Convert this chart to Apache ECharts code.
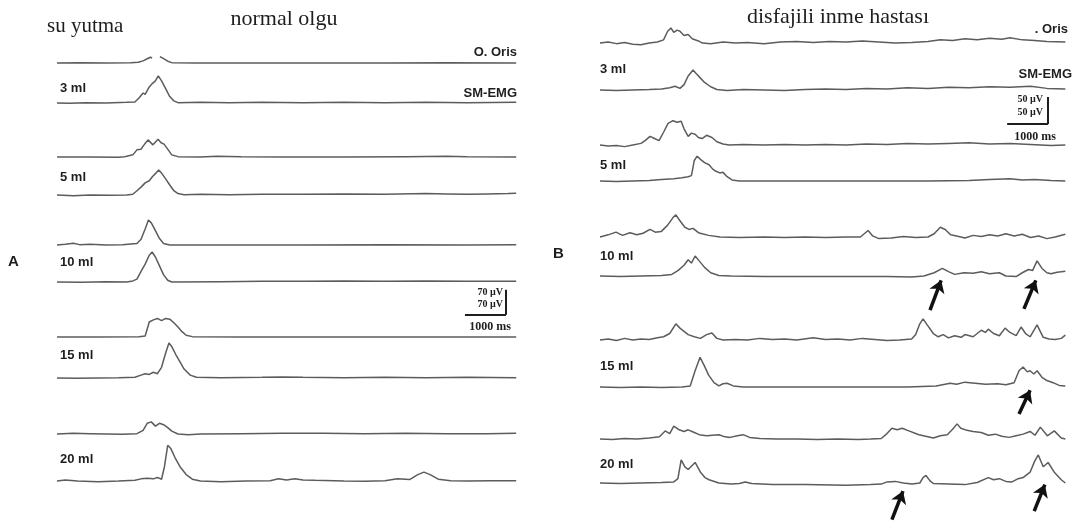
<!DOCTYPE html>
<html><head><meta charset="utf-8">
<script src="https://cdn.jsdelivr.net/npm/echarts/dist/echarts.min.js"></script>
<style>html,body{margin:0;padding:0;background:#fff}#c{width:1074px;height:529px}</style>
</head><body><div id="c"></div>
<script>
// ---------- DATA: [time (ms), amplitude (µV)] ----------
// Panel A — normal olgu
const A_3ml_oris = [[0,0],[600,1],[1200,0],[1800,1],[1980,2],[2100,6],[2200,12],[2280,16],[2320,14],[2400,'-'],[2510,18],[2600,12],[2700,5],[2800,1],[3400,0],[4500,0],[6000,0],[8000,0],[9500,1],[11200,0]];
const A_3ml_sm = [[0,0],[300,-1],[700,1],[1200,0],[1700,2],[1900,3],[2000,14],[2100,28],[2150,24],[2250,45],[2330,55],[2400,62],[2470,76],[2550,62],[2650,40],[2750,18],[2850,6],[2950,1],[3500,2],[4200,1],[5000,2],[6000,1],[7000,2],[8000,1],[9000,2],[10000,1],[11200,2]];
const A_5ml_oris = [[0,0],[800,0],[1500,-1],[1650,1],[1850,6],[1950,20],[2050,22],[2150,38],[2220,48],[2340,34],[2465,50],[2540,40],[2610,36],[2700,22],[2800,6],[2950,1],[3500,0],[3900,2],[4500,1],[5500,0],[7000,0],[8500,1],[9500,2],[10000,1],[11200,0]];
const A_5ml_sm = [[0,0],[400,-2],[800,0],[1300,-1],[1700,0],[1850,2],[1950,12],[2050,22],[2150,34],[2250,40],[2330,52],[2420,62],[2480,70],[2560,60],[2650,45],[2750,28],[2850,12],[2950,4],[3100,1],[3500,2],[4200,1],[5000,2],[6000,2],[7000,3],[8000,2],[9000,4],[9500,3],[10000,2],[10500,3],[11000,4],[11200,5]];
const A_10ml_oris = [[0,0],[200,2],[400,5],[550,1],[800,2],[1200,0],[1600,1],[1800,3],[1950,4],[2050,16],[2150,45],[2230,70],[2300,62],[2400,40],[2500,18],[2600,4],[2750,0],[4000,0],[6000,0],[8000,1],[10000,0],[11200,1]];
const A_10ml_sm = [[0,0],[600,-1],[1200,1],[1700,0],[1850,3],[1950,8],[2050,30],[2150,50],[2250,75],[2320,84],[2400,70],[2500,45],[2600,20],[2700,5],[2800,0],[4000,1],[5000,2],[6000,2],[7000,3],[8000,2],[9000,3],[10000,2],[11200,2]];
const A_15ml_oris = [[0,0],[1000,0],[2000,1],[2150,3],[2250,42],[2350,48],[2450,52],[2550,46],[2650,52],[2750,50],[2850,40],[2950,28],[3050,15],[3150,5],[3300,1],[4500,0],[6000,0],[8000,0],[10000,0],[11200,0]];
const A_15ml_sm = [[0,0],[500,-1],[1000,0],[1500,1],[1900,2],[2050,8],[2150,12],[2250,10],[2350,16],[2450,12],[2550,30],[2650,70],[2730,98],[2800,88],[2900,65],[3000,45],[3100,25],[3250,8],[3400,2],[4000,1],[5000,2],[5500,3],[6000,2],[7000,1],[8000,2],[9000,1],[10000,2],[11200,1]];
const A_20ml_oris = [[0,0],[400,2],[800,1],[1200,0],[1600,-1],[1950,1],[2100,10],[2200,30],[2300,34],[2400,22],[2500,30],[2600,26],[2700,18],[2800,8],[2950,0],[3200,-2],[3500,0],[4500,1],[5500,2],[6500,2],[7500,1],[8500,2],[9500,1],[10500,1],[11200,2]];
const A_20ml_sm = [[0,0],[200,3],[500,0],[1000,-2],[1500,0],[1900,2],[2050,6],[2200,8],[2350,6],[2450,10],[2550,5],[2620,40],[2700,100],[2780,90],[2880,65],[3000,40],[3150,18],[3300,5],[3500,0],[4000,-2],[4600,0],[5200,1],[5400,6],[5600,3],[5800,6],[6000,3],[6300,2],[7000,0],[7500,-1],[8000,1],[8300,6],[8600,4],[8800,18],[8950,25],[9100,18],[9300,5],[9600,1],[10000,0],[10600,1],[11200,1]];

// Panel B — disfajili inme hastası
const B_3ml_oris = [[0,0],[200,2],[400,-1],[600,1],[800,-2],[1000,-3],[1200,0],[1400,2],[1550,6],[1650,22],[1730,28],[1800,20],[1880,24],[1950,22],[2050,14],[2150,16],[2250,8],[2400,4],[2500,0],[2700,-1],[3000,2],[3300,0],[3600,1],[4000,-1],[4400,2],[4800,3],[5200,1],[5600,3],[6000,2],[6400,4],[6800,2],[7200,0],[7600,1],[8000,3],[8300,6],[8600,5],[8900,8],[9200,6],[9500,9],[9800,7],[10000,10],[10300,6],[10600,5],[10900,3],[11350,2]];
const B_3ml_sm = [[0,0],[400,-1],[800,0],[1200,1],[1500,2],[1700,4],[1830,7],[1950,3],[2050,10],[2150,26],[2270,37],[2350,30],[2450,22],[2550,14],[2700,6],[2850,1],[3100,-1],[3500,1],[4000,0],[4500,-1],[5000,1],[5500,2],[6000,1],[6500,3],[7000,2],[7500,4],[8000,3],[8500,5],[9000,4],[9500,6],[10000,5],[10500,7],[10900,3],[11350,2]];
const B_5ml_oris = [[0,0],[200,-2],[400,-1],[600,-3],[800,0],[1000,3],[1100,8],[1220,16],[1330,12],[1440,8],[1560,25],[1660,40],[1780,45],[1880,42],[1980,44],[2050,30],[2150,16],[2230,22],[2320,20],[2400,14],[2490,12],[2600,18],[2730,14],[2850,6],[3000,2],[3150,0],[3500,1],[4000,0],[4500,1],[5000,0],[5500,1],[6000,0],[6500,2],[7000,1],[7500,3],[8000,2],[8500,3],[9000,4],[9500,2],[10000,3],[10500,1],[11000,-1],[11350,0]];
const B_5ml_sm = [[0,0],[400,-1],[800,0],[1200,1],[1500,3],[1800,4],[2000,6],[2150,8],[2230,10],[2300,38],[2370,46],[2450,40],[2550,34],[2660,30],[2750,22],[2830,18],[2920,15],[3000,16],[3100,8],[3220,2],[3400,0],[4000,0],[5000,0],[6000,0],[7000,0],[8000,0],[9000,1],[9500,3],[10000,4],[10300,2],[10600,3],[11000,1],[11350,0]];
const B_10ml_oris = [[0,0],[200,4],[390,9],[550,3],[730,8],[900,4],[1050,7],[1220,14],[1350,9],[1490,10],[1650,22],[1780,36],[1850,41],[1950,30],[2070,18],[2170,14],[2270,16],[2400,8],[2490,6],[2650,3],[2930,0],[3400,-1],[4000,0],[4500,-1],[5000,0],[5500,-1],[6000,0],[6350,0],[6540,12],[6650,2],[6800,-3],[7100,-2],[7400,1],[7700,-1],[8000,0],[8150,6],[8300,18],[8420,14],[8550,4],[8700,2],[8900,-2],[9100,3],[9300,1],[9500,4],[9700,2],[9900,6],[10100,2],[10300,5],[10500,-1],[10700,2],[10900,-3],[11100,0],[11350,5]];
const B_10ml_sm = [[0,0],[500,-1],[1000,0],[1500,1],[1750,3],[1900,10],[2050,20],[2150,30],[2230,24],[2320,37],[2420,28],[2550,16],[2700,6],[2900,1],[3200,0],[4000,-1],[5000,-1],[6000,-1],[7000,-1],[7600,-2],[7900,0],[8150,6],[8350,14],[8500,8],[8650,3],[8880,6],[9100,5],[9300,8],[9500,4],[9740,6],[9900,0],[10150,-1],[10300,6],[10450,12],[10550,10],[10660,28],[10780,14],[10900,6],[11000,4],[11150,7],[11350,9]];
const B_15ml_oris = [[0,0],[200,2],[400,-1],[600,3],[800,0],[1000,2],[1200,1],[1400,4],[1550,6],[1700,12],[1850,30],[1950,22],[2050,16],[2150,10],[2300,6],[2450,3],[2600,10],[2730,13],[2850,3],[3000,0],[3300,1],[3600,0],[3900,3],[4200,1],[4500,2],[4800,0],[5200,4],[5500,1],[5800,2],[6100,0],[6400,3],[6700,1],[7000,-1],[7300,0],[7600,2],[7700,10],[7800,30],[7880,39],[7980,28],[8130,12],[8250,6],[8370,10],[8500,4],[8650,8],[8810,5],[8900,10],[9100,6],[9300,18],[9400,14],[9470,20],[9600,12],[9740,8],[9880,22],[10000,14],[10150,8],[10270,24],[10380,12],[10490,6],[10660,28],[10810,5],[10950,2],[11100,1],[11250,3],[11350,9]];
const B_15ml_sm = [[0,0],[500,-1],[1000,0],[1500,-1],[2000,0],[2200,2],[2320,30],[2440,55],[2540,40],[2650,22],[2780,8],[2900,2],[3000,6],[3100,7],[3250,2],[3500,0],[4500,0],[5500,0],[6500,0],[7500,0],[8200,2],[8540,7],[8700,5],[8900,9],[9150,7],[9400,5],[9700,6],[9900,4],[10100,8],[10220,30],[10320,37],[10420,28],[10490,30],[10580,24],[10660,30],[10780,18],[10900,12],[11050,8],[11200,3],[11350,2]];
const B_20ml_oris = [[0,0],[300,-1],[600,1],[900,0],[1200,2],[1450,4],[1590,15],[1700,10],[1800,24],[1930,17],[2050,14],[2150,17],[2300,12],[2420,8],[2600,6],[2900,8],[3050,4],[3170,3],[3350,6],[3490,8],[3650,3],[3900,1],[4300,0],[4800,0],[5300,-1],[5800,0],[6300,-1],[6600,0],[6860,1],[7000,10],[7120,20],[7250,17],[7370,20],[7500,16],[7780,8],[8130,2],[8300,6],[8470,8],[8600,18],[8710,28],[8800,20],[8950,16],[9100,14],[9300,12],[9470,7],[9640,9],[9800,5],[9980,3],[10150,6],[10320,9],[10490,14],[10610,7],[10740,22],[10910,6],[11080,15],[11250,2],[11350,0]];
const B_20ml_sm = [[0,0],[500,-1],[1000,0],[1500,1],[1800,2],[1900,8],[1980,43],[2070,30],[2150,25],[2320,38],[2450,20],[2560,10],[2660,6],[2900,0],[3200,-2],[3400,-1],[3540,2],[3700,-1],[4200,-3],[5000,-3],[6000,-4],[6600,-3],[6860,-2],[7000,2],[7200,3],[7400,0],[7610,-2],[7800,0],[7880,10],[7950,14],[8050,4],[8130,-1],[8500,-2],[8900,-3],[9200,1],[9470,10],[9600,6],[9740,8],[9900,3],[10050,2],[10200,8],[10320,10],[10490,20],[10600,40],[10690,52],[10810,30],[10930,38],[11080,20],[11250,6],[11350,0]];

// Arrows (panel B) : [[tail time, tail µV], [tip time, tip µV]]
const arrowsB10 = [[[8050,-63],[8320,-8]], [[10340,-61],[10630,-8]]];
const arrowsB15 = [[[10220,-50],[10490,-6]]];
const arrowsB20 = [[[7120,-68],[7390,-15]], [[10590,-52],[10850,-3]]];
// Calibration bars: 1000 ms and 70 µV (A) / 50 µV (B)
const scaleA = {t0:9950, dt:1000, uv0:-92, duv:70, label:'70 µV', ms:'1000 ms'};
const scaleB = {t0:9930, dt:1000, uv0:-63, duv:50, label:'50 µV', ms:'1000 ms'};

const volumes = ['3 ml','5 ml','10 ml','15 ml','20 ml'];
const channels = ['O. Oris','SM-EMG'];

// ---------- LAYOUT ----------
const layout = {
  A: {left:57, msPx:0.041, uvPx:25/70, yMin:-100, yMax:120, xMax:11300,
      base:[63,103,157,195,245,282,337,378,434,481]},
  B: {left:600, msPx:0.041, uvPx:0.54, yMin:-80, yMax:80, xMax:11400,
      base:[43,90,145,181,237,276,340,387,439,483]}
};
const traces = [
  ['A',A_3ml_oris],['A',A_3ml_sm],['A',A_5ml_oris],['A',A_5ml_sm],['A',A_10ml_oris],
  ['A',A_10ml_sm],['A',A_15ml_oris],['A',A_15ml_sm],['A',A_20ml_oris],['A',A_20ml_sm],
  ['B',B_3ml_oris],['B',B_3ml_sm],['B',B_5ml_oris],['B',B_5ml_sm],['B',B_10ml_oris],
  ['B',B_10ml_sm],['B',B_15ml_oris],['B',B_15ml_sm],['B',B_20ml_oris],['B',B_20ml_sm]
];

const TRACE = '#5c5c5c', INK = '#1e1e1e';
const grids=[], xAxes=[], yAxes=[], series=[];
const count = {A:0,B:0};
function scaleLines(s){
  return [
    [{coord:[s.t0,s.uv0]},{coord:[s.t0+s.dt,s.uv0]}],
    [{coord:[s.t0+s.dt,s.uv0]},{coord:[s.t0+s.dt,s.uv0+s.duv]}]
  ];
}
function arrowLines(list){ return list.map(([a,b]) => [{coord:a},{coord:b}]); }

traces.forEach(([p,data],k)=>{
  const L = layout[p]; const i = count[p]++;
  grids.push({left:L.left, top:L.base[i]-L.yMax*L.uvPx, width:L.xMax*L.msPx,
              height:(L.yMax-L.yMin)*L.uvPx, show:false});
  xAxes.push({type:'value', gridIndex:k, min:0, max:L.xMax, show:false});
  yAxes.push({type:'value', gridIndex:k, min:L.yMin, max:L.yMax, show:false});
  const s = {type:'line', xAxisIndex:k, yAxisIndex:k, data:data, showSymbol:false, symbol:'none',
             connectNulls:false, lineStyle:{color:TRACE, width:1.5}, silent:true};
  let ml = null;
  if (data===A_10ml_sm) ml = {symbol:['none','none'], lineStyle:{color:INK,width:2,type:'solid'}, data:scaleLines(scaleA)};
  if (data===B_3ml_sm) ml = {symbol:['none','none'], lineStyle:{color:INK,width:2,type:'solid'}, data:scaleLines(scaleB)};
  if (data===B_10ml_sm) ml = {symbol:['none','arrow'], symbolSize:12, lineStyle:{color:'#111',width:3.5,type:'solid'}, data:arrowLines(arrowsB10)};
  if (data===B_15ml_sm) ml = {symbol:['none','arrow'], symbolSize:12, lineStyle:{color:'#111',width:3.5,type:'solid'}, data:arrowLines(arrowsB15)};
  if (data===B_20ml_sm) ml = {symbol:['none','arrow'], symbolSize:12, lineStyle:{color:'#111',width:3.5,type:'solid'}, data:arrowLines(arrowsB20)};
  if (ml) { ml.silent=true; ml.label={show:false}; ml.emphasis={disabled:true}; s.markLine=ml; }
  series.push(s);
});

function txt(text,x,y,font,align){
  return {type:'text', silent:true, style:{text:text, x:x, y:y, font:font, fill:INK,
          align:align||'left', verticalAlign:'middle', textAlign:align||'left', textVerticalAlign:'middle'}};
}
const SERIF = '"Liberation Serif", "DejaVu Serif", serif';
const SANS = '"Liberation Sans", Arial, sans-serif';
const lab = 'bold 13px ' + SANS;
const graphic = [
  txt('su yutma', 47, 26, '21px '+SERIF),
  txt('normal olgu', 284, 19, '22px '+SERIF, 'center'),
  txt('disfajili inme hastası', 838, 17, '22px '+SERIF, 'center'),
  txt(channels[0], 517, 52, lab, 'right'),
  txt(channels[1], 517, 93, lab, 'right'),
  txt('. Oris', 1068, 29, lab, 'right'),
  txt(channels[1], 1072, 74, lab, 'right'),
  txt('A', 8, 262, 'bold 15px '+SANS),
  txt('B', 553, 254, 'bold 15px '+SANS),
  txt(scaleA.label, 503, 292, 'bold 10px '+SERIF, 'right'),
  txt(scaleA.label, 503, 304, 'bold 10px '+SERIF, 'right'),
  txt(scaleA.ms, 490, 327, 'bold 12px '+SERIF, 'center'),
  txt(scaleB.label, 1043, 99, 'bold 10px '+SERIF, 'right'),
  txt(scaleB.label, 1043, 112, 'bold 10px '+SERIF, 'right'),
  txt(scaleB.ms, 1035, 137, 'bold 12px '+SERIF, 'center')
];
const labelYA = [88,177,262,355,459], labelYB = [69,165,256,366,464];
volumes.forEach((v,i)=>{
  graphic.push(txt(v, 60, labelYA[i], lab));
  graphic.push(txt(v, 600, labelYB[i], lab));
});

const chart = echarts.init(document.getElementById('c'), null, {renderer:'canvas'});
chart.setOption({animation:false, backgroundColor:'#fff', grid:grids, xAxis:xAxes, yAxis:yAxes,
                 series:series, graphic:graphic});
</script></body></html>
